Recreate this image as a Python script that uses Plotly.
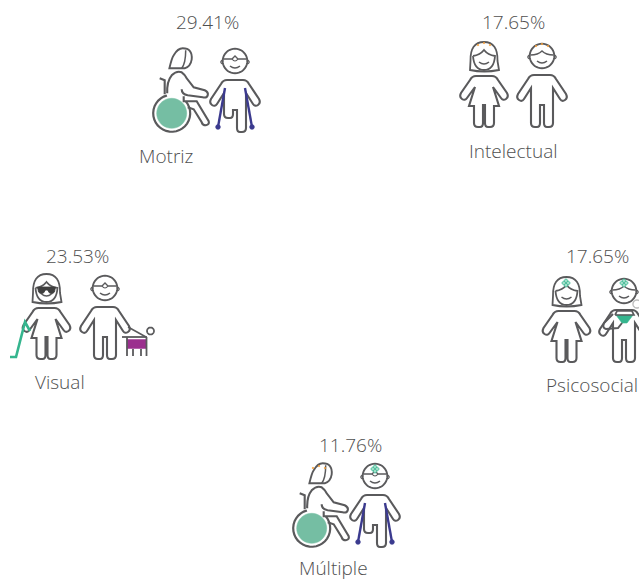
import math
import plotly.graph_objects as go

categories = ["Motriz", "Intelectual", "Visual", "Psicosocial", "Múltiple"]
values = [29.41, 17.65, 23.53, 17.65, 11.76]
value_pos = [(207, 22), (513, 22), (77, 256), (597, 256), (350, 445)]
label_pos = [(166, 156), (513, 151), (60, 382), (592, 385), (333, 568)]

INK = "#5a5a5c"
GREEN = "#75bea3"
NAVY = "#3b3a8e"
ORANGE = "#f7a13d"
TEAL = "#35b58e"
PURPLE = "#9b2f8e"
LW = 2.1
shapes = []


def P(points, ox=0, oy=0, close=False, color=INK, w=LW, fill=None):
    d = []
    for seg in points:
        cmd, nums = seg[0], seg[1:]
        out = [f"{n + (ox if i % 2 == 0 else oy):.2f}" for i, n in enumerate(nums)]
        d.append(cmd + " " + " ".join(out))
    path = " ".join(d) + (" Z" if close else "")
    s = dict(type="path", path=path, xref="x", yref="y", layer="above",
             line=dict(color=color, width=w))
    s["fillcolor"] = fill if fill else "rgba(0,0,0,0)"
    shapes.append(s)


def arc(cx, cy, r, a0, a1, n=28):
    pts = []
    for i in range(n + 1):
        a = math.radians(a0 + (a1 - a0) * i / n)
        pts.append(("L" if i else "M", cx + r * math.cos(a), cy + r * math.sin(a)))
    return pts


def circle(cx, cy, r, color=INK, w=LW, fill=None):
    P(arc(cx, cy, r, 0, 360, 40), close=True, color=color, w=w, fill=fill)


def polyline(pts, color=INK, w=LW, fill=None, close=False, ox=0, oy=0):
    P([("L" if i else "M", x, y) for i, (x, y) in enumerate(pts)], ox, oy, close, color, w, fill)


def woman_body(x, y):
    P([("M", -8, 21), ("L", 8, 21), ("Q", 12, 21, 14, 25), ("L", 23, 38), ("Q", 25, 42, 22, 44),
       ("Q", 19, 46, 17, 43), ("L", 9, 32), ("L", 15, 51), ("L", 10, 51), ("L", 10, 68),
       ("Q", 10, 72, 6, 72), ("L", 4, 72), ("Q", 1, 72, 1, 68), ("L", 1, 50), ("L", -1, 50),
       ("L", -1, 68), ("Q", -1, 72, -4, 72), ("L", -6, 72), ("Q", -10, 72, -10, 68), ("L", -10, 51),
       ("L", -15, 51), ("L", -9, 32), ("L", -17, 43), ("Q", -19, 46, -22, 44), ("Q", -25, 42, -23, 38),
       ("L", -14, 25), ("Q", -12, 21, -8, 21)], x, y, close=True)


def man_body(x, y, short=False):
    left_end = 54 if short else 68
    P([("M", -8, 20), ("L", 8, 20), ("Q", 12, 20, 14, 24), ("L", 24, 39), ("Q", 26, 43, 23, 45),
       ("Q", 20, 47, 18, 44), ("L", 11, 33), ("L", 11, 68), ("Q", 11, 72, 7, 72), ("L", 5, 72),
       ("Q", 2, 72, 2, 68), ("L", 2, 50), ("L", -2, 50), ("L", -2, left_end),
       ("Q", -2, left_end + 4, -5, left_end + 4), ("L", -7, left_end + 4),
       ("Q", -11, left_end + 4, -11, left_end), ("L", -11, 33), ("L", -18, 44),
       ("Q", -20, 47, -23, 45), ("Q", -26, 43, -24, 39), ("L", -14, 24), ("Q", -12, 20, -8, 20)],
      x, y, close=True)


def woman_head(x, y):
    P([("M", -14, 15), ("L", -13.5, 6), ("Q", -14, -13, 0, -13), ("Q", 14, -13, 13.5, 6), ("L", 15, 15),
       ("Q", 0, 18, -14, 15)], x, y, close=True, w=1.8)
    P([("M", -11, 1), ("Q", -4, 0, 0, -5), ("Q", 4, 0, 11, 1), ("Q", 10, 15, 0, 15), ("Q", -10, 15, -11, 1)],
      x, y, w=1.8)
    P([("M", -5, 7), ("Q", 0, 11, 5, 7)], x, y, w=1.5)


def man_head(x, y, shades=False):
    circle(x - 12.5, y + 2, 1.6, w=1.3)
    circle(x + 12.5, y + 2, 1.6, w=1.3)
    circle(x, y + 1, 12.3, fill="#ffffff", w=1.9)
    if shades:
        P([("M", -11.5, -1), ("L", -3, -1), ("L", 0, -4), ("L", 3, -1), ("L", 11.5, -1)], x, y, w=1.3)
        P([("M", -3, -1), ("Q", 0, 3, 3, -1)], x, y, w=1.1)
    else:
        P([("M", -11.5, 0), ("Q", -4, 0, 0, -4), ("Q", 4, 0, 11.5, 0)], x, y, w=1.5)
    P([("M", -5, 6), ("Q", 0, 10, 5, 6)], x, y, w=1.5)


def sparks(x, y, top=-12):
    for dx, dy in [(-6, 2), (0, 0), (6, 2)]:
        circle(x + dx, y + top + dy, 0.7, color=ORANGE, w=1, fill=ORANGE)


def cross(x, y):
    for dx, dy in [(0, -2.2), (2.2, 0), (0, 2.2), (-2.2, 0)]:
        circle(x + dx, y + dy, 1.7, color=TEAL, w=0.9, fill="#a5dfca")


def wheelchair(x, y):
    circle(x, y, 15, color=GREEN, w=0.5, fill=GREEN)
    P(arc(x, y, 18.5, -40, 255), w=2.2)
    polyline([(-12, -35), (-7, -33), (-7, -19)], ox=x, oy=y)
    P([("M", -2.3, -45), ("Q", 0, -55, 2, -58), ("Q", 6, -65, 11, -65), ("Q", 21, -65, 20, -54),
       ("Q", 19, -47, 13, -45), ("L", -2.3, -45)], x, y, close=True, w=1.9)
    P([("M", 14, -63), ("Q", 14, -50, 10, -45)], x, y, w=1.5)
    P([("M", -4.5, -20), ("Q", -5, -32, 0, -38), ("Q", 5, -43, 10, -41), ("Q", 13, -39, 15, -35), ("L", 22, -26),
       ("L", 33, -23), ("Q", 37, -21, 36, -18), ("Q", 35, -15, 31, -16), ("L", 16, -18),
       ("Q", 10, -19, 10, -24)], x, y)
    P([("M", 12, -17), ("L", 12, -12), ("L", 25, -12), ("L", 37, 8), ("Q", 38, 11, 34, 12),
       ("Q", 31, 12, 30, 9), ("L", 22, -4), ("L", 16, -6)], x, y)


def crutches(x, y):
    for sx in (-1, 1):
        P([("M", sx * 10, 28), ("L", sx * 17, 67)], x, y, color=NAVY, w=2.4)
        circle(x + sx * 17, y + 67, 2.4, color=NAVY, w=0.5, fill=NAVY)


# ---- Motriz
wheelchair(171.7, 113.3)
man_body(235, 60, short=True)
man_head(235, 60, shades=True)
crutches(235, 60)

# ---- Intelectual
woman_body(484, 55)
woman_head(484, 55)
sparks(484, 55)
man_body(542, 55)
man_head(542, 55)
sparks(542, 55, -11)

# ---- Visual
woman_body(46.5, 287)
woman_head(46.5, 287)
P([("M", -9, 0), ("L", 9, 0), ("L", 8, 5), ("Q", 6, 8, 3, 6), ("L", 1, 3), ("L", -1, 3), ("L", -3, 6),
   ("Q", -6, 8, -8, 5)], 46.5, 287, close=True, color="#3f3f3f", w=0.8, fill="#3f3f3f")
polyline([(10, 357), (16, 357), (25, 322), (30, 331)], color=TEAL, w=2.6)
man_body(105, 287)
man_head(105, 287, shades=True)
polyline([(128, 327), (146, 337)], w=1.6)
circle(150.5, 331, 3.5, w=1.7)
polyline([(122, 337), (147, 337)], w=1.8)
shapes.append(dict(type="rect", x0=127, x1=146.5, y0=339.5, y1=348.5, xref="x", yref="y",
                   fillcolor=PURPLE, line=dict(color=PURPLE, width=0.5), layer="above"))
for px, y0 in ((127, 337), (133, 349), (141, 349), (146.5, 337)):
    polyline([(px, y0), (px, 356)], w=1.8)

# ---- Psicosocial
woman_body(566.5, 290)
woman_head(566.5, 290)
cross(566, 283)
man_body(624, 290)
man_head(624, 290)
cross(624, 283)
P([("M", -8, 25), ("L", 9, 25), ("L", 3, 33), ("L", -2, 33)], 624, 290, close=True, color=TEAL, w=0.6, fill=TEAL)
P([("M", -9, 25), ("L", -7, 21), ("L", 8, 21), ("L", 10, 25), ("L", -9, 25)], 624, 290, w=1.7)
P([("M", -11, 24), ("L", -20, 33), ("Q", -22, 38, -18, 39), ("L", -6, 38), ("L", -2, 33)], 624, 290, w=2.0)
circle(637, 304, 4, color="#bdbdbd", w=1.4)

# ---- Múltiple
wheelchair(311.7, 528.3)
sparks(319, 478, -12)
man_body(375, 475, short=True)
man_head(375, 475, shades=True)
cross(375, 469)
crutches(375, 475)

annotations = []
for cat, val, (vx, vy), (lx, ly) in zip(categories, values, value_pos, label_pos):
    annotations.append(dict(x=vx, y=vy, text=f"{val:.2f}%", showarrow=False, xref="x", yref="y",
                            font=dict(family="Open Sans", size=19, color="#4f4f4f", weight=300)))
    annotations.append(dict(x=lx, y=ly, text=cat, showarrow=False, xref="x", yref="y",
                            font=dict(family="Open Sans", size=19, color="#4f4f4f", weight=300)))

fig = go.Figure()
fig.add_trace(go.Scatter(x=[0, 639], y=[0, 581], mode="markers", marker=dict(opacity=0), hoverinfo="skip"))
fig.update_layout(width=639, height=581, margin=dict(l=0, r=0, t=0, b=0), showlegend=False,
                  paper_bgcolor="white", plot_bgcolor="white", shapes=shapes, annotations=annotations)
fig.update_xaxes(range=[0, 639], visible=False, fixedrange=True)
fig.update_yaxes(range=[581, 0], visible=False, fixedrange=True)
fig.write_html("out.html", config={"displayModeBar": False},
               post_script="document.body.style.margin='0';")
